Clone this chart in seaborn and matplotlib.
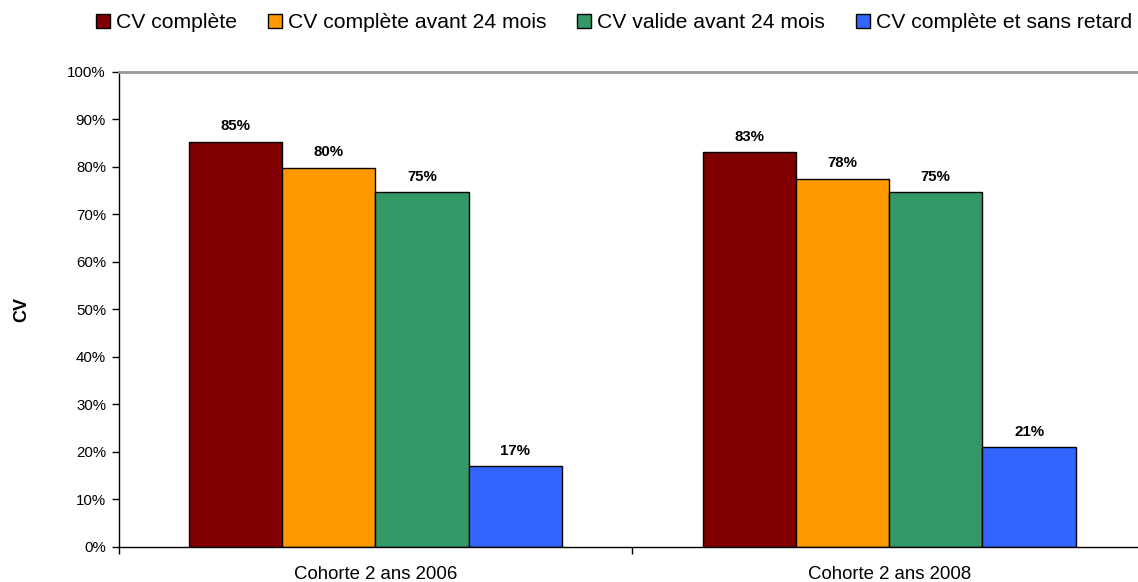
import matplotlib
matplotlib.use("Agg")
import matplotlib.pyplot as plt
import seaborn as sns
import pandas as pd
from matplotlib.patches import Patch
from matplotlib.ticker import FixedLocator, PercentFormatter

# Data
cohorts = ["Cohorte 2 ans 2006", "Cohorte 2 ans 2008"]
series = [
    "CV complète",
    "CV complète avant 24 mois",
    "CV valide avant 24 mois",
    "CV complète et sans retard",
]
cv_complete = [85.3, 83.1]
cv_complete_24m = [79.8, 77.5]
cv_valid_24m = [74.7, 74.6]
cv_complete_on_time = [17.0, 21.0]
colors = ["#800000", "#FF9900", "#339966", "#3366FF"]
y_ticks = list(range(0, 101, 10))

values = [cv_complete, cv_complete_24m, cv_valid_24m, cv_complete_on_time]
df = pd.DataFrame(
    [
        {"cohorte": c, "serie": s, "valeur": v}
        for s, vals in zip(series, values)
        for c, v in zip(cohorts, vals)
    ]
)

sns.set_theme(style="white")
plt.rcParams["font.family"] = ["Liberation Sans", "DejaVu Sans"]
plt.rcParams.update({
    "text.color": "black",
    "axes.labelcolor": "black",
    "xtick.color": "black",
    "ytick.color": "black",
})

fig = plt.figure(figsize=(11.38, 5.82), dpi=100)
ax = fig.add_axes([118.5 / 1138, 1 - 547 / 582, (1146 - 118.5) / 1138, (547 - 71.7) / 582])

sns.barplot(
    data=df, x="cohorte", y="valeur", hue="serie", order=cohorts, hue_order=series,
    palette=colors, width=0.7265, edgecolor="black", linewidth=1.0,
    saturation=1, legend=False, ax=ax, errorbar=None,
)

for cont in ax.containers:
    ax.bar_label(
        cont, labels=[f"{v:.0f}%" for v in cont.datavalues],
        padding=6, fontsize=10.8, fontweight="bold", color="black",
    )

ax.set_xlim(-0.5, 1.5)
ax.set_ylim(0, 100)
ax.set_yticks(y_ticks)
ax.yaxis.set_major_formatter(PercentFormatter(decimals=0))
ax.tick_params(axis="y", which="major", direction="out", length=5, width=1,
               color="black", labelsize=10.8, labelcolor="black", pad=4, left=True)
ax.xaxis.set_minor_locator(FixedLocator([-0.5, 0.5, 1.5]))
ax.tick_params(axis="x", which="major", length=0, labelsize=13.4,
               labelcolor="black", pad=14)
ax.tick_params(axis="x", which="minor", direction="out", length=5, width=1,
               color="black", bottom=True)

ax.set_xlabel("")
ax.set_ylabel("CV", fontsize=13, fontweight="bold", color="black")
ax.yaxis.set_label_coords(-0.086, 0.5)

for side in ["left", "bottom"]:
    ax.spines[side].set_color("black")
    ax.spines[side].set_linewidth(1.0)
for side in ["top", "right"]:
    ax.spines[side].set_visible(True)
    ax.spines[side].set_color("#999999")
    ax.spines[side].set_linewidth(2.0)

handles = [Patch(facecolor=c, edgecolor="black", linewidth=1.0) for c in colors]
fig.legend(
    handles, series, loc="center", bbox_to_anchor=(614 / 1138, 1 - 23 / 582),
    ncol=4, frameon=False, fontsize=15.2, handlelength=0.66, handleheight=0.66,
    handletextpad=0.3, columnspacing=1.45, borderaxespad=0,
)

fig.savefig("out.png", dpi=100, facecolor="white")
